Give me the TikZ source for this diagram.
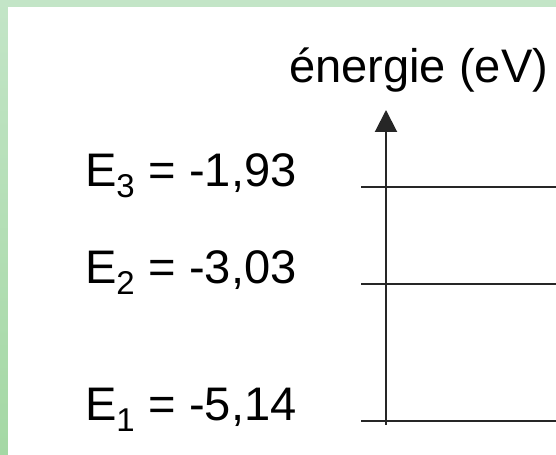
\documentclass[tikz,border=0pt]{standalone}
\usepackage{fontspec}
\setmainfont{Liberation Sans}
\usetikzlibrary{arrows.meta}
\definecolor{FrameTop}{HTML}{C3E5C7}
\definecolor{FrameBot}{HTML}{A4D8A4}
\tikzset{
  level/.style={line width=0.05cm,black!85},
  levlabel/.style={anchor=base west,inner sep=0pt,font=\fontsize{33.5}{40}\selectfont},
}
\begin{document}
\begin{tikzpicture}[x=1cm,y=1cm]
\path[use as bounding box] (0,0) rectangle (13.90,11.375);
\shade[top color=FrameTop,bottom color=FrameBot] (0,0) rectangle (13.90,11.375);
\fill[white] (0.20,0) rectangle (13.90,11.20);
% axe des energies
\coordinate (axbot) at (9.65,0.75);
\coordinate (axtop) at (9.65,8.625);
\draw[level,-{Triangle[width=0.55cm,length=0.55cm]}] (axbot) -- (axtop);
\node[levlabel] (axlabel) at (7.22,9.32) {énergie (eV)};
% niveaux
\coordinate (e3a) at (9.025,6.70); \coordinate (e3b) at (13.90,6.70);
\coordinate (e2a) at (9.025,4.275); \coordinate (e2b) at (13.90,4.275);
\coordinate (e1a) at (9.025,0.85);  \coordinate (e1b) at (13.90,0.85);
\draw[level] (e3a) -- (e3b);
\draw[level] (e2a) -- (e2b);
\draw[level] (e1a) -- (e1b);
\node[levlabel] (e3) at (2.12,6.70) {E\textsubscript{3} = -1,93};
\node[levlabel] (e2) at (2.12,4.275) {E\textsubscript{2} = -3,03};
\node[levlabel] (e1) at (2.12,0.85) {E\textsubscript{1} = -5,14};
\end{tikzpicture}
\end{document}
